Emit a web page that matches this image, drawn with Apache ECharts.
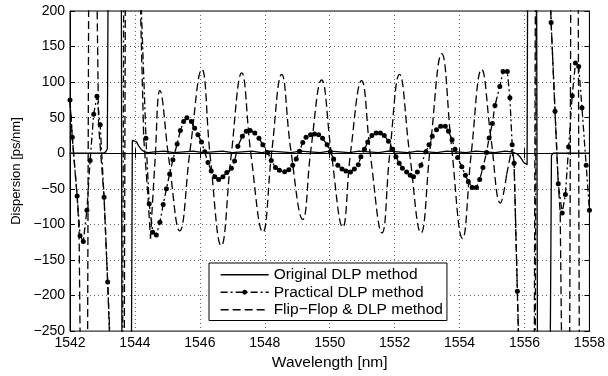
<!DOCTYPE html>
<html>
<head>
<meta charset="utf-8">
<script src="https://cdn.jsdelivr.net/npm/echarts@6/dist/echarts.min.js"></script>
<style>
html,body{margin:0;padding:0;background:#fff;}
#chart{width:608px;height:376px;}
</style>
</head>
<body>
<div id="chart"></div>
<script>
// ---- tick labels / axis ----
const xTicks = [1542, 1544, 1546, 1548, 1550, 1552, 1554, 1556, 1558];
const yTicks = [-250, -200, -150, -100, -50, 0, 50, 100, 150, 200];
const seriesNames = ['Original DLP method', 'Practical DLP method', 'Flip\u2212Flop & DLP method'];

// ---- Original DLP method (solid) ----
const origWl = [1542.00, 1543.03, 1543.10, 1543.15, 1543.18, 1543.58, 1543.60, 1543.89, 1543.92, 1543.97,
  1544.05, 1544.12, 1544.20, 1544.30, 1544.40, 1544.6, 1544.9, 1545.2, 1545.5, 1545.8,
  1546.1, 1546.4, 1546.7, 1547.0, 1547.3, 1547.6, 1547.9, 1548.2, 1548.5, 1548.8,
  1549.1, 1549.4, 1549.7, 1550.0, 1550.3, 1550.6, 1550.9, 1551.2, 1551.5, 1551.8,
  1552.1, 1552.4, 1552.7, 1553.0, 1553.3, 1553.6, 1553.9, 1554.2, 1554.5, 1554.8,
  1555.1, 1555.4, 1555.62, 1555.78, 1555.88, 1555.98, 1556.08, 1556.10, 1556.37, 1556.40,
  1556.79, 1556.83, 1556.88, 1558.00];
const origVal = [0, 0, 2, 6, 300, 300, -300, -300, 18, 19,
  16, 10, 5, 2, 1, 2, 3, 1, 2, 3,
  1, 2, 3, 1, 2, 3, 1, 3, 2, 1,
  3, 2, 1, 3, 2, 1, 3, 2, 1, 3,
  2, 1, 3, 2, 1, 3, 2, 1, 3, 2,
  1, 3, 2, -1, -6, -13, -16, 300, 300, -300,
  -300, -3, 0, 0];

// ---- Practical DLP method (dash-dot with dots) ----
const practWl = [1542.00, 1542.07, 1542.22, 1542.31, 1542.41, 1542.52, 1542.62, 1542.73, 1542.83, 1542.93,
  1543.05, 1543.16, 1543.27, 1543.62, 1543.66, 1544.12, 1544.34, 1544.44, 1544.55, 1544.66,
  1544.77, 1544.87, 1544.97, 1545.07, 1545.17, 1545.30, 1545.40, 1545.50, 1545.60, 1545.74,
  1545.84, 1545.94, 1546.05, 1546.15, 1546.25, 1546.35, 1546.46, 1546.58, 1546.71, 1546.83,
  1546.97, 1547.07, 1547.17, 1547.31, 1547.43, 1547.55, 1547.69, 1547.82, 1547.94, 1548.09,
  1548.20, 1548.33, 1548.45, 1548.61, 1548.74, 1548.86, 1548.97, 1549.07, 1549.17, 1549.27,
  1549.41, 1549.53, 1549.66, 1549.78, 1549.92, 1550.02, 1550.12, 1550.25, 1550.38, 1550.50,
  1550.64, 1550.76, 1550.88, 1550.96, 1551.07, 1551.17, 1551.30, 1551.43, 1551.56, 1551.68,
  1551.81, 1551.94, 1552.04, 1552.14, 1552.24, 1552.37, 1552.48, 1552.58, 1552.70, 1552.81,
  1552.96, 1553.06, 1553.16, 1553.29, 1553.42, 1553.56, 1553.66, 1553.77, 1553.86, 1553.94,
  1554.07, 1554.18, 1554.27, 1554.39, 1554.52, 1554.62, 1554.72, 1554.83, 1554.91, 1555.01,
  1555.09, 1555.24, 1555.34, 1555.47, 1555.55, 1555.62, 1555.68, 1555.78, 1555.84, 1556.33,
  1556.37, 1556.74, 1556.82, 1556.94, 1557.04, 1557.16, 1557.26, 1557.36, 1557.47, 1557.57,
  1557.67, 1557.77, 1557.90, 1558.00];
const practVal = [75, 22.5, -60, -116, -124, -80, -10, 55, 80, 40,
  -62, -181, -300, -300, 300, 300, 21, -71, -111, -115,
  -97, -72, -50, -29, -9, 13, 32, 44.5, 50, 44.5,
  35, 26, 16, 2, -13, -25, -33, -37, -33, -27,
  -21, -11, 10, 24, 31, 32, 28.5, 21, 12, 1,
  -10, -20, -24, -26, -23, -17, -8, 3, 15, 22.5,
  26, 27, 26, 21, 12, 2, -8, -17, -22, -25,
  -26.5, -22, -16, -5, 5.5, 16, 25, 28.5, 28.5, 25,
  17, 5.5, -5, -14, -21, -26.5, -31, -33, -26.5, -17,
  2, 12, 24, 33, 38, 38, 31, 19, 5.5, -6,
  -19, -31, -40, -48, -48, -37, -20, 1, 21.6, 42,
  67, 94, 115, 115, 78, 12, -14, -194, -300, -300,
  300, 300, 184, 59, -43, -84, -58, 9, 81, 127,
  122, 64, -17, -80];

// ---- Flip-Flop & DLP method (dashed): left edge, middle (smooth), right edge ----
const ffLeftWl = [1542.00, 1542.07, 1542.22, 1542.28, 1542.32, 1542.54, 1542.58, 1542.81, 1542.88, 1543.05,
  1543.16, 1543.25, 1543.67, 1543.71, 1544.12, 1544.27, 1544.40, 1544.48];
const ffLeftVal = [75, 22, -60, -110, -300, -300, 300, 300, 40, -62,
  -181, -300, -300, 300, 300, 22, -60, -120];
const ffMidWl = [1544.48, 1544.62, 1544.77, 1545.05, 1545.38, 1545.70, 1546.06, 1546.32, 1546.66, 1546.96,
  1547.29, 1547.57, 1547.94, 1548.21, 1548.52, 1548.80, 1549.17, 1549.42, 1549.75, 1550.05,
  1550.40, 1550.64, 1550.98, 1551.26, 1551.61, 1551.85, 1552.15, 1552.46, 1552.81, 1553.10,
  1553.45, 1553.75, 1554.09, 1554.36, 1554.68, 1554.97, 1555.26, 1555.45];
const ffMidVal = [-120, -10, 88, -10, -109, 5, 118, -5, -130, -5,
  113, 0, -111, 0, 111, 5, -93, 5, 103, 0,
  -104, 0, 102, -5, -112, 0, 111, 0, -112, 10,
  140, 10, -120, 0, 118, 20, -70, -30];
const ffRightWl = [1555.45, 1555.60, 1555.68, 1555.78, 1555.84, 1556.30, 1556.34, 1556.74, 1556.82, 1556.94,
  1557.04, 1557.10, 1557.15, 1557.39, 1557.43, 1557.65, 1557.69, 1558.00];
const ffRightVal = [-30, 5, -14, -194, -300, -300, 300, 300, 184, 59,
  -43, -84, -300, -300, 300, 300, -300, -300];

function pairs(xs, ys) { return xs.map((x, i) => [x, ys[i]]); }

const FONT = 'Liberation Sans, Arial, Helvetica, sans-serif';
const chart = echarts.init(document.getElementById('chart'), null, {renderer: 'canvas'});

const LW = 1.3;
const dashStyle = {color: '#000', width: LW, type: [8, 4]};

const option = {
  animation: false,
  backgroundColor: '#fff',
  grid: {left: 70, right: 17, top: 11, bottom: 38, show: true, borderColor: '#000', borderWidth: 1, containLabel: false},
  legend: {
    data: [
      {name: seriesNames[0], itemStyle: {opacity: 0}},
      {name: seriesNames[1]},
      {name: seriesNames[2], itemStyle: {opacity: 0}}
    ],
    orient: 'vertical',
    left: 209, top: 263,
    backgroundColor: '#fff',
    borderColor: '#000', borderWidth: 1, borderRadius: 0,
    padding: [3, 4, 2, 11],
    itemWidth: 48, itemHeight: 6, itemGap: 0,
    selectedMode: false,
    lineStyle: {width: 1.3},
    textStyle: {fontFamily: FONT, fontSize: 15.5, color: '#000', lineHeight: 17.5}
  },
  xAxis: [{
    type: 'value', min: 1542, max: 1558, interval: 2,
    name: 'Wavelength [nm]', nameLocation: 'middle', nameGap: 22,
    nameTextStyle: {fontFamily: FONT, fontSize: 15.5, color: '#000'},
    axisLine: {show: true, lineStyle: {color: '#000', width: 1}},
    axisTick: {show: true, inside: true, length: 5, lineStyle: {color: '#000'}},
    axisLabel: {fontFamily: FONT, fontSize: 14, color: '#000', margin: 5,
      formatter: v => (xTicks.indexOf(v) >= 0 ? String(v) : '')},
    splitLine: {show: true, lineStyle: {color: '#666', width: 1, type: [1, 3]}}
  }, {
    type: 'value', min: 1542, max: 1558, interval: 2, position: 'top',
    axisLine: {show: true, lineStyle: {color: '#000'}},
    axisTick: {show: true, inside: true, length: 5, lineStyle: {color: '#000'}},
    axisLabel: {show: false}, splitLine: {show: false}
  }],
  yAxis: [{
    type: 'value', min: -250, max: 200, interval: 50,
    name: 'Dispersion [ps/nm]', nameLocation: 'middle', nameGap: 46, nameRotate: 90,
    nameTextStyle: {fontFamily: FONT, fontSize: 13, color: '#000'},
    axisLine: {show: true, lineStyle: {color: '#000', width: 1}},
    axisTick: {show: true, inside: true, length: 5, lineStyle: {color: '#000'}},
    axisLabel: {fontFamily: FONT, fontSize: 14, color: '#000', margin: 5,
      formatter: v => (yTicks.indexOf(v) >= 0 ? String(v).replace('-', '\u2212') : '')},
    splitLine: {show: true, lineStyle: {color: '#666', width: 1, type: [1, 3]}}
  }, {
    type: 'value', min: -250, max: 200, interval: 50, position: 'right',
    axisLine: {show: true, lineStyle: {color: '#000'}},
    axisTick: {show: true, inside: true, length: 5, lineStyle: {color: '#000'}},
    axisLabel: {show: false}, splitLine: {show: false}
  }],
  series: [
    {
      name: seriesNames[0], type: 'line', clip: true, symbol: 'none',
      data: pairs(origWl, origVal),
      lineStyle: {color: '#000', width: LW, type: 'solid'},
      itemStyle: {color: '#000'}, z: 3
    },
    {
      name: seriesNames[1], type: 'line', clip: true, symbol: 'circle', symbolSize: 5,
      showSymbol: true, showAllSymbol: true,
      data: pairs(practWl, practVal),
      lineStyle: {color: '#000', width: LW, type: [7, 3, 2, 3]},
      itemStyle: {color: '#000', borderWidth: 0}, z: 4
    },
    {
      name: seriesNames[2], type: 'line', clip: true, symbol: 'none',
      data: pairs(ffLeftWl, ffLeftVal),
      lineStyle: dashStyle, itemStyle: {color: '#000'}, z: 2
    },
    {
      name: seriesNames[2], type: 'line', clip: true, symbol: 'none', smooth: 0.45,
      data: pairs(ffMidWl, ffMidVal),
      lineStyle: dashStyle, itemStyle: {color: '#000'}, z: 2
    },
    {
      name: seriesNames[2], type: 'line', clip: true, symbol: 'none',
      data: pairs(ffRightWl, ffRightVal),
      lineStyle: dashStyle, itemStyle: {color: '#000'}, z: 2
    }
  ]
};
chart.setOption(option);
</script>
</body>
</html>
